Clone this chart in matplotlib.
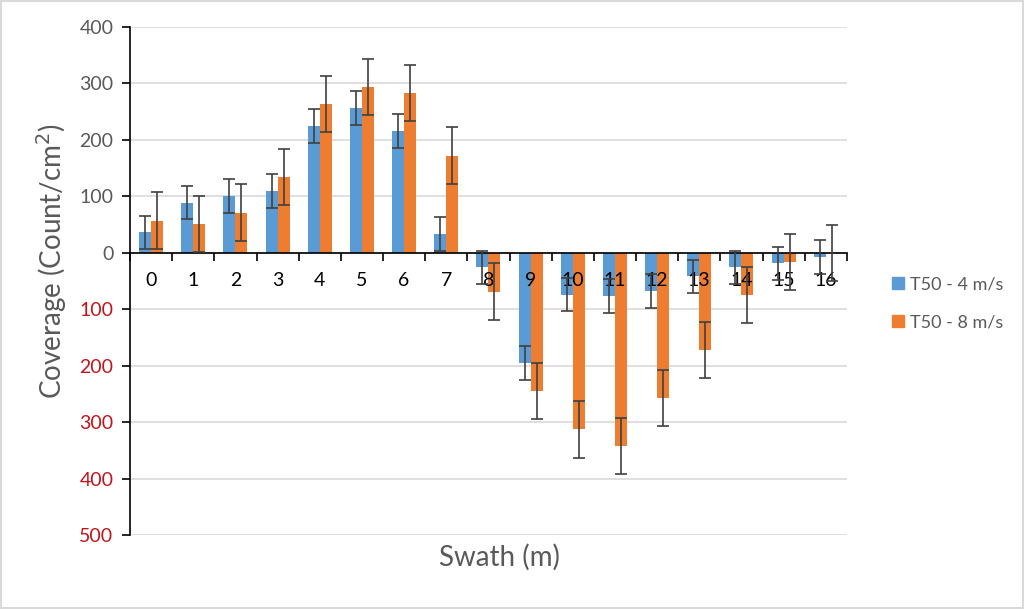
import numpy as np
import matplotlib as mpl
mpl.use('Agg')
from matplotlib import pyplot as plt
from matplotlib.ticker import FixedLocator, FuncFormatter
from matplotlib.patches import Rectangle
from matplotlib.lines import Line2D

plt.rcParams['font.family'] = ['Lato', 'DejaVu Sans']

# data
swath = [str(i) for i in range(17)]
t50_4 = [36, 89, 101, 110, 225, 257, 215, 34, -26, -196, -74, -77, -67, -42, -26, -19, -8]
t50_8 = [57, 51, 71, 134, 264, 294, 283, 172, -69, -245, -313, -342, -257, -172, -75, -16, 0]
err_4 = [30] * 17
err_8 = [50] * 17
yticks = [400, 300, 200, 100, 0, -100, -200, -300, -400, -500]

blue = '#5B9BD5'
orange = '#ED7D31'
grey_txt = '#595959'
red_txt = '#C0161B'

fig = plt.figure(figsize=(10.24, 6.09), dpi=100)
ax = fig.add_axes([0.127, 0.1215, 0.700, 0.8342])

x = np.arange(len(swath))
w = 0.284
ekw = dict(ecolor='#404040', elinewidth=1.2, capthick=1.2, zorder=5)
ax.bar(x - w / 2, t50_4, w, yerr=err_4, color=blue, capsize=4.5, error_kw=ekw,
       label='T50 - 4 m/s', zorder=3)
ax.bar(x + w / 2, t50_8, w, yerr=err_8, color=orange, capsize=4.5, error_kw=ekw,
       label='T50 - 8 m/s', zorder=3)

ax.set_xlim(-0.5, len(swath) - 0.5)
ax.set_ylim(-500, 400)

# y axis
ax.set_yticks(yticks)
ax.yaxis.set_major_formatter(FuncFormatter(lambda v, p: '%d' % abs(v)))
for lab, v in zip(ax.get_yticklabels(), yticks):
    lab.set_color(red_txt if v < 0 else grey_txt)
ax.tick_params(axis='y', labelsize=14, length=6, width=1.2, color='black', pad=6)
ax.yaxis.grid(True, color='#D9D9D9', linewidth=1.2)
ax.set_axisbelow(True)

# x axis at zero, drawn over the bars
ax.spines['bottom'].set_position(('data', 0))
ax.spines['bottom'].set_linewidth(1.2)
ax.spines['bottom'].set_zorder(4)
ax.spines['left'].set_linewidth(1.2)
ax.spines['top'].set_visible(False)
ax.spines['right'].set_visible(False)
ax.set_xticks(x)
ax.set_xticklabels(swath)
ax.xaxis.set_minor_locator(FixedLocator(np.arange(-0.5, len(swath), 1.0)))
ax.tick_params(axis='x', which='major', length=0, labelsize=14, labelcolor='black', pad=14)
ax.tick_params(axis='x', which='minor', length=6, width=1.2, color='black')
ax.xaxis.set_zorder(4)

ax.set_ylabel('Coverage (Count/cm$^2$)', fontsize=20, color=grey_txt)
ax.yaxis.set_label_coords(-0.085, 0.54)
fig.text(0.488, 0.085, 'Swath (m)', fontsize=20, color=grey_txt, ha='center', va='center')

handles = [Line2D([], [], marker='s', linestyle='none', markersize=8, color=blue),
           Line2D([], [], marker='s', linestyle='none', markersize=8, color=orange)]
fig.legend(handles, ['T50 - 4 m/s', 'T50 - 8 m/s'], loc='center left',
           bbox_to_anchor=(0.852, 0.502), frameon=False, fontsize=13,
           labelcolor=grey_txt, handletextpad=0.2, labelspacing=1.2, handlelength=1.0)

fig.patches.append(Rectangle((0.001, 0.001), 0.998, 0.997, transform=fig.transFigure,
                             fill=False, edgecolor='#D9D9D9', linewidth=1.5))

fig.savefig('out.png', dpi=100)
